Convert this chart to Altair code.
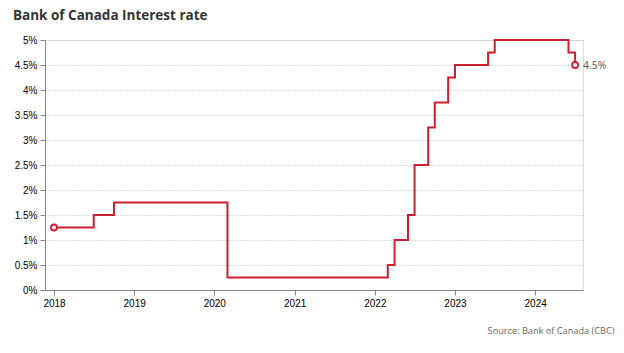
import altair as alt
import pandas as pd

# Bank of Canada policy rate (dates of change, rate after change)
change_dates = ["2018-01-01", "2018-07-01", "2018-10-01", "2020-03-01",
                "2022-03-01", "2022-04-01", "2022-06-01", "2022-07-01",
                "2022-09-01", "2022-10-01", "2022-12-01", "2023-01-01",
                "2023-06-01", "2023-07-01", "2024-06-01", "2024-07-01"]
rates = [1.25, 1.5, 1.75, 0.25,
         0.5, 1.0, 1.5, 2.5,
         3.25, 3.75, 4.25, 4.5,
         4.75, 5.0, 4.75, 4.5]
y_ticks = [0, 0.5, 1, 1.5, 2, 2.5, 3, 3.5, 4, 4.5, 5]
x_years = [2018, 2019, 2020, 2021, 2022, 2023, 2024]

df = pd.DataFrame({"date": change_dates, "rate": rates})
ends = df.iloc[[0, -1]].reset_index(drop=True)
last = df.iloc[[-1]].reset_index(drop=True)

RED = "#cc1f2f"
FONT = "Open Sans"

x_enc = alt.X(
    "date:T",
    scale=alt.Scale(domain=[alt.DateTime(year=2017, month=11, date=21),
                            alt.DateTime(year=2024, month=8, date=6)]),
    axis=alt.Axis(
        values=[alt.DateTime(year=y, month=1, date=1) for y in x_years],
        format="%Y", grid=False, title="Source: Bank of Canada (CBC)",
        titleAnchor="end", titleAlign="right", titleX=569, titleY=43,
        titleFontSize=9.2, titleFontWeight="normal", titleColor="#666",
        titleFont=FONT, titleBaseline="alphabetic",
        labelPadding=3,
    ),
)
y_enc = alt.Y(
    "rate:Q",
    scale=alt.Scale(domain=[0, 5], nice=False),
    axis=alt.Axis(values=y_ticks, labelExpr="format(datum.value, '~g') + '%'",
                  title=None, grid=True, gridColor="#b4bfc7", gridDash=[1, 2],
                  labelPadding=3, labelOverlap=False),
)

line = alt.Chart(df).mark_line(interpolate="step-after", color=RED, strokeWidth=2).encode(
    x=x_enc, y=y_enc)
pts = alt.Chart(ends).mark_point(shape="circle", filled=True, fill="white",
                                 stroke=RED, strokeWidth=1.8, size=36, opacity=1).encode(
    x=x_enc, y=y_enc)
lbl = alt.Chart(last).mark_text(align="left", dx=8, dy=1, fontSize=10.5,
                                color="#555", font=FONT).encode(
    x=x_enc, y=y_enc, text=alt.value("4.5%"))

chart = alt.layer(line, pts, lbl).properties(
    width=538, height=250,
    title=alt.TitleParams("Bank of Canada Interest rate", anchor="start", frame="group",
                          dx=-32, offset=13, fontSize=13.5, font=FONT, fontWeight="bold",
                          color="#333"),
    autosize=alt.AutoSizeParams(type="none"),
    padding={"left": 45, "top": 40, "right": 41, "bottom": 63},
).configure_view(stroke=None).configure_axis(
    labelFont=FONT, labelFontSize=10.5, labelColor="#777",
    domainColor="#777", domainWidth=1.5, tickColor="#777", tickSize=5, tickWidth=1.2,
).configure(background="white")

chart.save("out.html", embed_options={"renderer": "svg", "actions": False})
